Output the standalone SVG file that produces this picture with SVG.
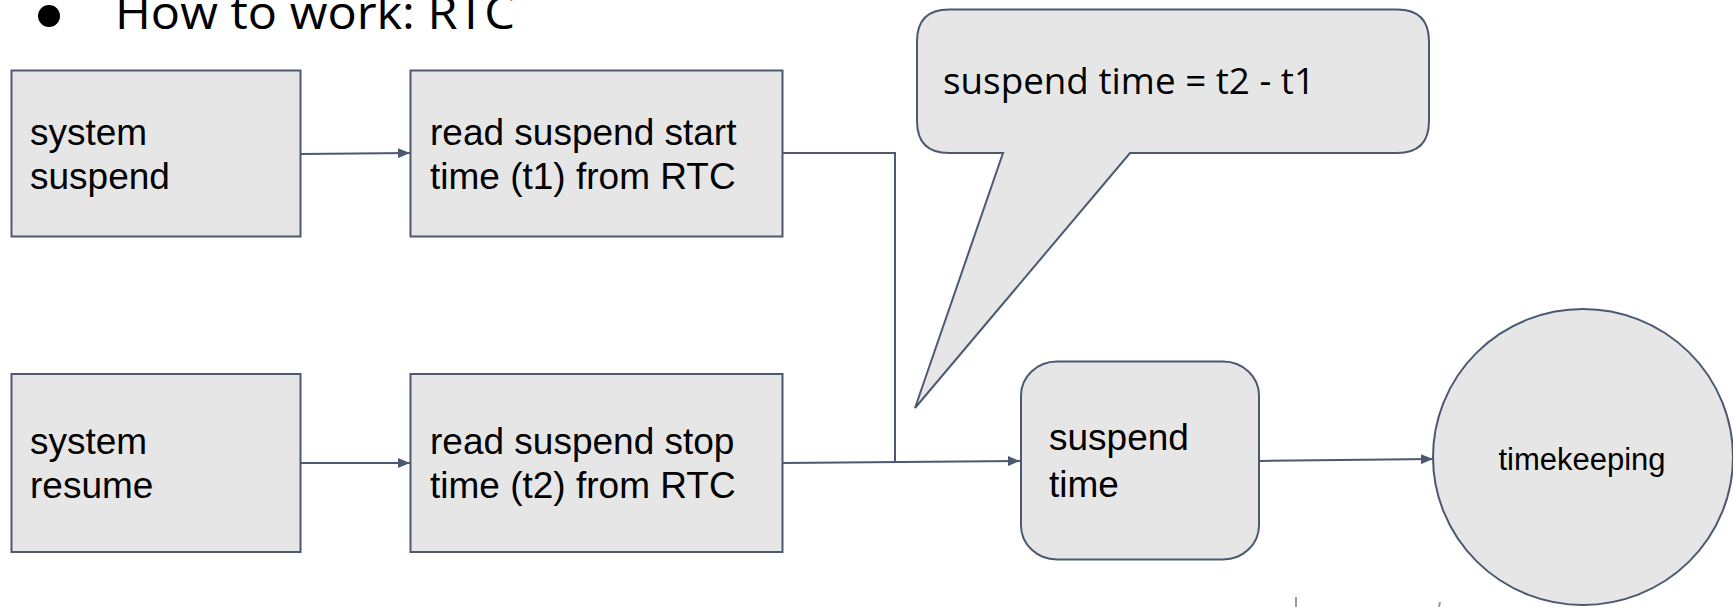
<svg xmlns="http://www.w3.org/2000/svg" width="1733" height="607" viewBox="0 0 1733 607">
  <style>
    .shape { fill: #e6e6e6; stroke: #4b5a71; stroke-width: 2; }
    .wire { fill: none; stroke: #4b5a71; stroke-width: 2; }
    .label { font-family: "Liberation Sans", Arial, sans-serif; font-size: 37px; fill: #000; }
    .small { font-size: 31px; }
    .heading { font-family: "Open Sans", "Noto Sans", sans-serif; font-size: 45px; fill: #000; }
    .note { font-family: "Open Sans", "Noto Sans", sans-serif; font-size: 37px; fill: #000; }
  </style>
  <defs>
    <marker id="arrow" viewBox="0 0 12 10" refX="12" refY="5" markerWidth="12" markerHeight="10" markerUnits="userSpaceOnUse" orient="auto">
      <path d="M0,0 L12,5 L0,10 Z" fill="#4b5a71"/>
    </marker>
  </defs>

  <rect width="1733" height="607" fill="#ffffff"/>

  <!-- heading bullet -->
  <g id="title">
    <circle cx="49" cy="16" r="11" fill="#000"/>
    <text class="heading" x="115" y="29" textLength="400" lengthAdjust="spacingAndGlyphs">How to work: RTC</text>
  </g>

  <!-- connectors -->
  <g id="connectors">
    <line class="wire" x1="301" y1="154" x2="410" y2="153" marker-end="url(#arrow)"/>
    <polyline class="wire" points="783,153 895,153 895,462"/>
    <line class="wire" x1="301" y1="463" x2="410" y2="463" marker-end="url(#arrow)"/>
    <line class="wire" x1="783" y1="463" x2="1020" y2="461" marker-end="url(#arrow)"/>
    <line class="wire" x1="1259" y1="461" x2="1433" y2="459" marker-end="url(#arrow)"/>
  </g>

  <g id="system-suspend">
    <rect class="shape" x="11.5" y="70.5" width="289" height="166"/>
    <text class="label" x="30" y="145">system</text>
    <text class="label" x="30" y="189">suspend</text>
  </g>

  <g id="read-start">
    <rect class="shape" x="410.5" y="70.5" width="372" height="166"/>
    <text class="label" x="430" y="145">read suspend start</text>
    <text class="label" x="430" y="189">time (t1) from RTC</text>
  </g>

  <g id="system-resume">
    <rect class="shape" x="11.5" y="374" width="289" height="178"/>
    <text class="label" x="30" y="454">system</text>
    <text class="label" x="30" y="498">resume</text>
  </g>

  <g id="read-stop">
    <rect class="shape" x="410.5" y="374" width="372" height="178"/>
    <text class="label" x="430" y="454">read suspend stop</text>
    <text class="label" x="430" y="498">time (t2) from RTC</text>
  </g>

  <g id="callout">
    <path class="shape" d="M949,9.5 H1397 Q1429,9.5 1429,41.5 V121 Q1429,153 1397,153 H1130 L915,408 L1003,153 H949 Q917,153 917,121 V41.5 Q917,9.5 949,9.5 Z"/>
    <text class="note" x="943" y="94" textLength="372" lengthAdjust="spacingAndGlyphs">suspend time = t2 - t1</text>
  </g>

  <g id="suspend-time">
    <rect class="shape" x="1021" y="361.5" width="238" height="198" rx="36" ry="34"/>
    <text class="label" x="1049" y="450">suspend</text>
    <text class="label" x="1049" y="497">time</text>
  </g>

  <g id="timekeeping">
    <ellipse class="shape" cx="1583" cy="457" rx="150" ry="148"/>
    <text class="label small" x="1582" y="470" text-anchor="middle">timekeeping</text>
  </g>

  <!-- faint pen marks along the lower edge -->
  <g id="marks" stroke="#9a9a9a" stroke-width="2" fill="none">
    <line x1="1296" y1="597" x2="1296" y2="607"/>
    <line x1="1440" y1="602" x2="1439" y2="607"/>
  </g>
</svg>
